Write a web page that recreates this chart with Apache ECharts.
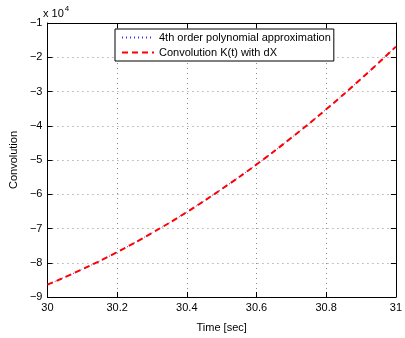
<!DOCTYPE html>
<html>
<head>
<meta charset="utf-8">
<script src="https://cdn.jsdelivr.net/npm/echarts@6/dist/echarts.min.js"></script>
<style>
html,body{margin:0;padding:0;background:#fff;}
#c{width:405px;height:338px;}
</style>
</head>
<body>
<div id="c"></div>
<script>
const times = [30.0, 30.1, 30.2, 30.3, 30.4, 30.5, 30.6, 30.7, 30.8, 30.9, 31.0];
const polyApprox = [-86400, -81900, -76900, -71300, -65200, -58500, -51300, -43500, -35200, -26300, -16900];
const convolution = [-86400, -81900, -76900, -71300, -65200, -58500, -51300, -43500, -35200, -26300, -16900];
const xTicks = [30, 30.2, 30.4, 30.6, 30.8, 31];
const yTicks = [-90000, -80000, -70000, -60000, -50000, -40000, -30000, -20000, -10000];
const seriesNames = ['4th order polynomial approximation', 'Convolution K(t) with dX'];

const FONT = 'Liberation Sans, Arial, sans-serif';
const chart = echarts.init(document.getElementById('c'), null, {renderer: 'canvas'});

const gridLine = {show: true, lineStyle: {color: '#8c8c8c', type: [1, 4], width: 1}};
const axisLineStyle = {show: true, lineStyle: {color: '#000', width: 1}};
const tick = {show: true, inside: true, length: 5, lineStyle: {color: '#000'}};

function fmtY(v) {
  const n = Math.round(v / 1e4);
  return n < 0 ? '\u2212' + Math.abs(n) : String(n);
}

chart.setOption({
  animation: false,
  backgroundColor: '#fff',
  textStyle: {fontFamily: FONT},
  grid: {left: 44, right: 5, top: 23, bottom: 34, containLabel: false},
  legend: {
    orient: 'vertical',
    left: 115, top: 29,
    padding: [3, 3, 3, 6],
    itemGap: 4,
    itemWidth: 32, itemHeight: 12,
    borderColor: '#000', borderWidth: 1,
    backgroundColor: '#fff',
    itemStyle: {opacity: 0},
    textStyle: {fontSize: 11, color: '#000', fontFamily: FONT},
    data: seriesNames
  },
  xAxis: [{
    type: 'value', min: xTicks[0], max: xTicks[xTicks.length - 1], interval: 0.2,
    name: 'Time [sec]', nameLocation: 'middle', nameGap: 25,
    nameTextStyle: {fontSize: 11, color: '#000', fontFamily: FONT},
    axisLine: axisLineStyle, axisTick: tick,
    axisLabel: {fontSize: 11, color: '#000', margin: 5, fontFamily: FONT,
      formatter: v => String(Math.round(v * 10) / 10)},
    splitLine: gridLine
  }, {
    type: 'value', position: 'top', min: xTicks[0], max: xTicks[xTicks.length - 1], interval: 0.2,
    axisLine: axisLineStyle, axisTick: tick, axisLabel: {show: false}, splitLine: {show: false}
  }],
  yAxis: [{
    type: 'value', min: yTicks[0], max: yTicks[yTicks.length - 1], interval: 10000,
    name: 'Convolution', nameLocation: 'middle', nameGap: 21, nameRotate: 90,
    nameTextStyle: {fontSize: 11, color: '#000', fontFamily: FONT},
    axisLine: axisLineStyle, axisTick: tick,
    axisLabel: {fontSize: 11, color: '#000', margin: 5, fontFamily: FONT, formatter: fmtY},
    splitLine: gridLine
  }, {
    type: 'value', position: 'right', min: yTicks[0], max: yTicks[yTicks.length - 1], interval: 10000,
    axisLine: axisLineStyle, axisTick: tick, axisLabel: {show: false}, splitLine: {show: false}
  }],
  graphic: [{
    type: 'text', left: 43, top: 5,
    style: {
      text: '{a|x 10}{b|4}',
      rich: {
        a: {fontSize: 11, fill: '#000', fontFamily: FONT, verticalAlign: 'bottom'},
        b: {fontSize: 8, fill: '#000', fontFamily: FONT, verticalAlign: 'top', padding: [0, 0, 6, 1]}
      }
    }
  }],
  series: [{
    name: seriesNames[0], type: 'line', smooth: true, symbol: 'none',
    data: times.map((t, i) => [t, polyApprox[i]]),
    lineStyle: {color: '#3030ff', width: 1, type: [1, 3]},
    itemStyle: {color: '#3030ff'},
    z: 2
  }, {
    name: seriesNames[1], type: 'line', smooth: true, symbol: 'none',
    data: times.map((t, i) => [t, convolution[i]]),
    lineStyle: {color: '#ff0000', width: 2, type: [6, 4]},
    itemStyle: {color: '#ff0000'},
    z: 3
  }]
});
</script>
</body>
</html>
